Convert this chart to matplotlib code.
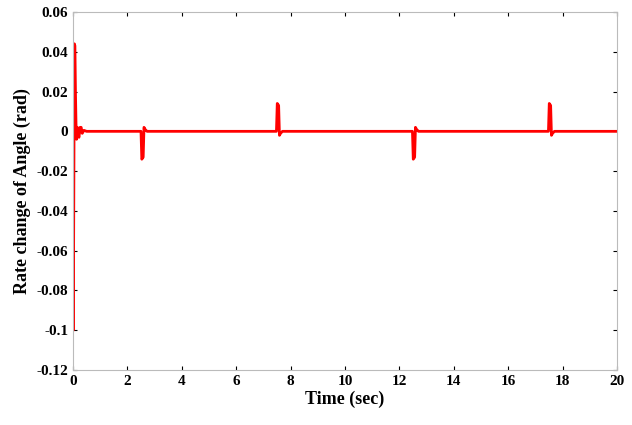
import matplotlib
matplotlib.use("Agg")
import matplotlib.pyplot as plt

time = [0, 0.01, 0.03, 0.05, 0.07, 0.09, 0.11, 0.13, 0.16, 0.19, 0.22, 0.26, 0.30, 0.34, 0.40, 0.5,
        2.50, 2.53, 2.58, 2.61, 2.65, 2.72, 7.48, 7.51, 7.56, 7.59, 7.63, 7.7,
        12.48, 12.51, 12.56, 12.59, 12.63, 12.7, 17.48, 17.51, 17.56, 17.59, 17.63, 17.7, 20]
rate = [0, -0.10, -0.03, 0.044, 0.043, 0.02, 0.004, -0.004, 0.002, -0.002, -0.003, 0.002, 0.002, -0.001, 0.0005, 0,
        0, -0.014, -0.013, 0.002, 0.001, 0, 0, 0.014, 0.013, -0.002, -0.001, 0,
        0, -0.014, -0.013, 0.002, 0.001, 0, 0, 0.014, 0.013, -0.002, -0.001, 0, 0]
xticks = list(range(0, 21, 2))
yticks = [-0.12, -0.1, -0.08, -0.06, -0.04, -0.02, 0, 0.02, 0.04, 0.06]
ylabels = ["-0.12", "-0.1", "-0.08", "-0.06", "-0.04", "-0.02", "0", "0.02", "0.04", "0.06"]

plt.rcParams['font.family'] = ['Liberation Serif', 'DejaVu Serif']
plt.rcParams['font.weight'] = 'bold'
fig = plt.figure(figsize=(6.32, 4.25), dpi=100)
ax = fig.add_axes([73/632, 55/425, 544/632, 358/425])
ax.plot(time, rate, color='red', lw=2)
ax.set_xlim(0, 20)
ax.set_ylim(-0.12, 0.06)
ax.set_xticks(xticks)
ax.set_yticks(yticks)
ax.set_yticklabels(ylabels)
ax.tick_params(labelsize=11, direction='in', length=3, top=True, right=True)
for s in ax.spines.values():
    s.set_color('#bbbbbb')
ax.set_xlabel("Time (sec)", fontsize=13, fontweight='bold', labelpad=2)
ax.set_ylabel("Rate change of Angle (rad)", fontsize=13, fontweight='bold', labelpad=4)
fig.savefig("out.png", dpi=100)
